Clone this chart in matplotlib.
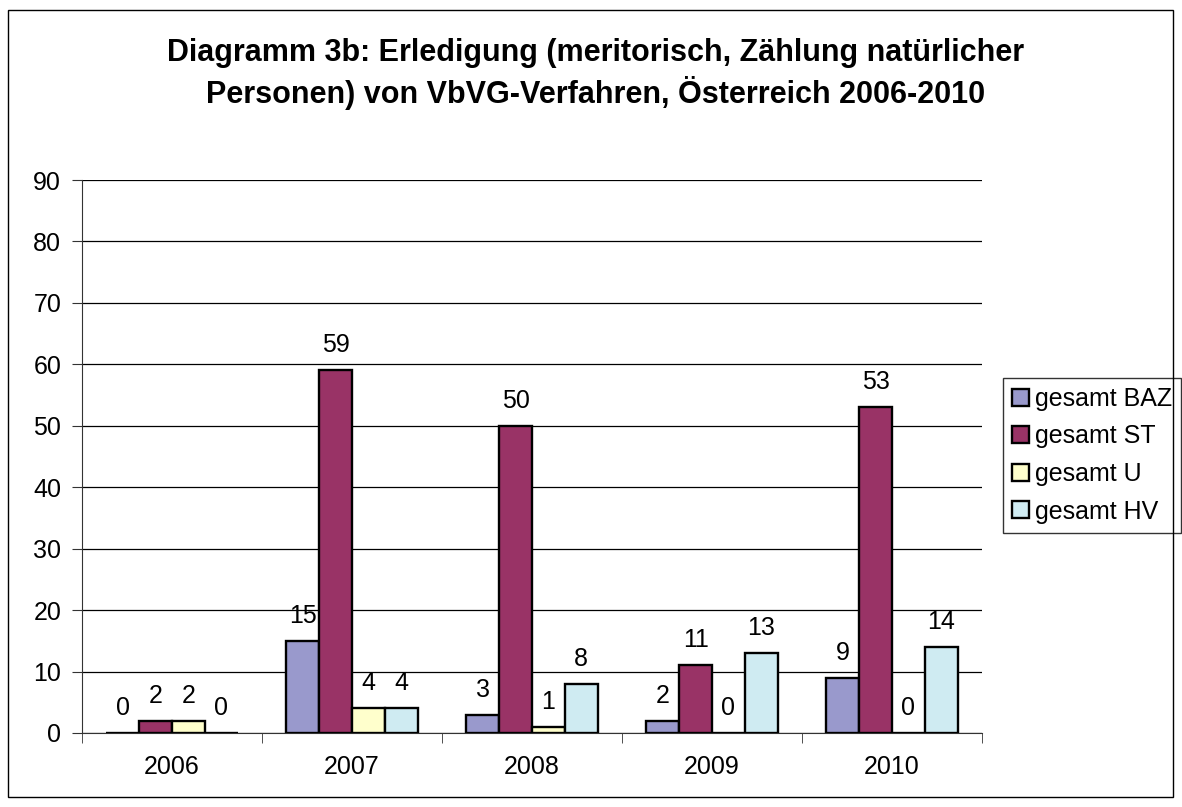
import matplotlib
matplotlib.use("Agg")
import matplotlib.pyplot as plt
import numpy as np
from matplotlib.patches import Rectangle

plt.rcParams['font.family'] = ['Liberation Sans', 'DejaVu Sans']

years = ["2006", "2007", "2008", "2009", "2010"]
series_names = ["gesamt BAZ", "gesamt ST", "gesamt U", "gesamt HV"]
baz = [0, 15, 3, 2, 9]
st = [2, 59, 50, 11, 53]
u = [2, 4, 1, 0, 0]
hv = [0, 4, 8, 13, 14]
colors = ["#9999CC", "#993366", "#FFFFCC", "#CFEBF2"]
title = "Diagramm 3b: Erledigung (meritorisch, Zählung natürlicher\nPersonen) von VbVG-Verfahren, Österreich 2006-2010"

fig = plt.figure(figsize=(11.82, 8.07), dpi=100)
fig.patches.append(Rectangle((8/1182, 10/807), 1165/1182, 787/807, transform=fig.transFigure,
                             fill=False, edgecolor='black', linewidth=1.0))
ax = fig.add_axes([82/1182, 74/807, 900/1182, 553/807])

x = np.arange(len(years))
w = 0.182
data = [baz, st, u, hv]
for i, (vals, c, name) in enumerate(zip(data, colors, series_names)):
    pos = x + (i - 1.5) * w
    ax.bar(pos, vals, width=w, color=c, edgecolor='black', linewidth=1.7, label=name, zorder=3)
    for p, v in zip(pos, vals):
        ax.annotate(str(v), (p, v), xytext=(0, 13), textcoords='offset points',
                    ha='center', va='baseline', fontsize=18, zorder=4)

ax.set_xlim(-0.5, 4.5)
ax.set_ylim(0, 90)
ax.set_yticks(range(0, 91, 10))
ax.yaxis.grid(True, color='black', linewidth=0.9)
ax.set_axisbelow(True)
ax.set_xticks(x)
ax.set_xticklabels(years)
ax.set_xticks(np.arange(-0.5, 5.0, 1.0), minor=True)
ax.tick_params(axis='x', which='major', length=0, pad=16, labelsize=18)
ax.tick_params(axis='x', which='minor', length=7, direction='out', color='#333333')
ax.tick_params(axis='y', length=7, direction='out', labelsize=18, pad=8, color='#333333')
for s in ['top', 'right']:
    ax.spines[s].set_visible(False)
ax.spines['left'].set_color('#333333')
ax.spines['bottom'].set_color('#333333')

fig.text(596/1182, 1 - 74/807, title, ha='center', va='center', fontsize=22,
         fontweight='bold', linespacing=1.3)

leg = ax.legend(loc='upper left', bbox_to_anchor=(1003/1182, 1 - 378/807), bbox_transform=fig.transFigure,
                frameon=True, fancybox=False, edgecolor='black', fontsize=18,
                handlelength=0.68, handleheight=0.68, handletextpad=0.25, borderpad=0.36,
                labelspacing=0.54, borderaxespad=0)
leg.get_frame().set_linewidth(1.0)

fig.savefig("out.png", dpi=100)
